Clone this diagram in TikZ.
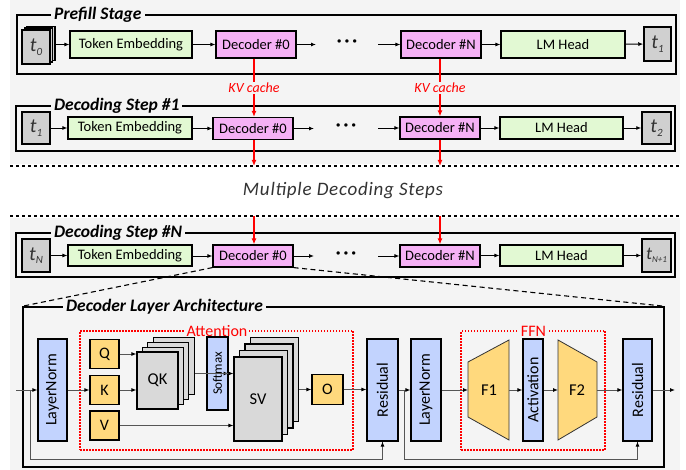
\documentclass[tikz,border=0pt]{standalone}
\usepackage{fontspec}
\setmainfont{Carlito}
\newfontfamily\spacedfont[LetterSpace=4]{Carlito}
\usetikzlibrary{arrows.meta,calc}
\definecolor{bg}{HTML}{F4F4F4}
\definecolor{tgreen}{HTML}{E2F9D3}
\definecolor{tpink}{HTML}{F5B1F5}
\definecolor{tgray}{HTML}{D0D0D0}
\definecolor{sgray}{HTML}{D9D9D9}
\definecolor{tblue}{HTML}{C2D3FE}
\definecolor{torange}{HTML}{FFD97D}
\definecolor{lgray}{HTML}{555555}
\definecolor{tdark}{HTML}{333333}
\newcommand\tlab[2][]{{\color{tdark}{\fontsize{20}{20}\selectfont\itshape t}\raisebox{-3.5pt}{\fontsize{11}{11}\selectfont\itshape #2}}}
\tikzset{
  box/.style={draw=black, line width=1.2pt, inner sep=0pt, font=\fontsize{14.5}{14.5}\selectfont},
  gbox/.style={box, fill=tgreen},
  dbox/.style={box, fill=tpink},
  tbox/.style={box, fill=tgray, line width=1.5pt},
  bbox/.style={box, fill=tblue, rotate=90, font=\fontsize{16}{16}\selectfont},
  obox/.style={box, fill=torange, font=\fontsize{16}{16}\selectfont},
  sbox/.style={box, fill=sgray, font=\fontsize{16.5}{16.5}\selectfont},
  frame/.style={draw=black, line width=2pt, inner sep=0pt},
  ttl/.style={fill=bg, inner xsep=3pt, inner ysep=0pt, font=\fontsize{17.5}{17.5}\selectfont\bfseries\itshape, anchor=west},
  arr/.style={-{Latex[length=5pt,width=4pt]}, line width=0.9pt, black},
  garr/.style={-{Latex[length=5pt,width=4pt,color=black]}, line width=0.9pt, draw=lgray},
  gline/.style={line width=0.9pt, draw=lgray},
  rarr/.style={-{Latex[length=6pt,width=5pt]}, line width=1.2pt, red},
  kvl/.style={fill=bg, inner sep=1pt, text=red, font=\fontsize{14}{14}\selectfont\itshape},
  sepline/.style={line width=1.5pt, dash pattern=on 3pt off 3pt},
  redbox/.style={draw=red, line width=1.3pt, dash pattern=on 1.5pt off 1.5pt},
  redlbl/.style={fill=bg, inner xsep=2pt, inner ysep=0pt, text=red, font=\fontsize{16}{16}\selectfont},
  dotsnode/.style={font=\fontsize{18}{18}\selectfont\bfseries},
  trap/.style={fill=torange, draw=black!80, line width=0.8pt},
}
\begin{document}
\begin{tikzpicture}[x=1pt,y=-1pt]
\useasboundingbox (0,0) rectangle (686,470);
\fill[white] (0,0) rectangle (686,470);
\fill[bg] (10,0) rectangle (680,164);
\fill[bg] (10,218) rectangle (680,470);

% ---------- Prefill stage ----------
\node[frame, minimum width=659pt, minimum height=59pt] (fpre) at (346.5,44.5) {};
\node[ttl] (tpre) at (51,15) {Prefill Stage};
\node[tbox, minimum width=28pt, minimum height=34pt] (t0b2) at (41,43.4) {};
\node[tbox, minimum width=28pt, minimum height=34pt] (t0b1) at (38.5,45.2) {};
\node[tbox, minimum width=28pt, minimum height=34pt] (t0) at (36,47) {\tlab{0}};
\node[gbox, minimum width=122pt, minimum height=27pt] (te0) at (131,44.5) {Token Embedding};
\node[dbox, minimum width=80pt, minimum height=27pt] (d0p) at (256,44.5) {Decoder \#0};
\node[dotsnode] (dotp) at (347,43) {·\,·\,·};
\node[dbox, minimum width=80pt, minimum height=27pt] (dNp) at (441,44.5) {Decoder \#N};
\node[gbox, minimum width=124pt, minimum height=27pt] (lmp) at (563,44.5) {LM Head};
\node[tbox, minimum width=27pt, minimum height=34pt] (t1p) at (657.5,44) {\tlab{1}};
\coordinate (dlp) at (316,44.5);
\coordinate (drp) at (378,44.5);
\draw[arr] (t0b2.east |- te0.west) -- (te0.west);
\draw[arr] (te0) -- (d0p);
\draw[arr] (d0p) -- (dlp);
\draw[arr] (drp) -- (dNp);
\draw[arr] (dNp) -- (lmp);
\draw[arr] (lmp) -- (t1p);

% ---------- Decoding step 1 ----------
\node[frame, minimum width=659pt, minimum height=45pt] (fs1) at (345.5,128.5) {};
\node[ttl] (ts1) at (51,106) {Decoding Step \#1};
\node[tbox, minimum width=28pt, minimum height=32pt] (t1s) at (36,128) {\tlab{1}};
\node[gbox, minimum width=124pt, minimum height=22pt] (te1) at (130,128) {Token Embedding};
\node[dbox, minimum width=80pt, minimum height=22pt] (d01) at (253,128.5) {Decoder \#0};
\node[dotsnode] (dot1) at (346,127) {·\,·\,·};
\node[dbox, minimum width=80pt, minimum height=22pt] (dN1) at (440,128) {Decoder \#N};
\node[gbox, minimum width=123pt, minimum height=22pt] (lm1) at (561.5,128) {LM Head};
\node[tbox, minimum width=29pt, minimum height=32pt] (t2s) at (656.5,128) {\tlab{2}};
\coordinate (dl1) at (314,128.5);
\coordinate (dr1) at (378,128);
\draw[arr] (t1s) -- (te1);
\draw[arr] (te1.east |- d01.west) -- (d01.west);
\draw[arr] (d01) -- (dl1);
\draw[arr] (dr1) -- (dN1);
\draw[arr] (dN1) -- (lm1);
\draw[arr] (lm1) -- (t2s);

% ---------- KV cache ----------
\coordinate (kva) at (254,0);
\coordinate (kvb) at (440,0);
\draw[rarr] (kva |- d0p.south) -- (kva |- d01.north);
\draw[rarr] (kvb |- dNp.south) -- (kvb |- dN1.north);
\node[kvl] (kvla) at (254,88) {KV cache};
\node[kvl] (kvlb) at (440,88) {KV cache};

% ---------- separators ----------
\coordinate (sepa) at (10,166);
\coordinate (sepb) at (680,166);
\coordinate (sepc) at (10,216);
\coordinate (sepd) at (680,216);
\draw[sepline] (sepa) -- (sepb);
\draw[sepline] (sepc) -- (sepd);
\node[font=\fontsize{19}{19}\spacedfont\itshape, text=tdark] (mds) at (343,191) {Multiple Decoding Steps};
\draw[rarr] (kva |- d01.south) -- (kva |- sepa);
\draw[rarr] (kvb |- dN1.south) -- (kvb |- sepa);

% ---------- Decoding step N ----------
\node[frame, minimum width=659pt, minimum height=44pt] (fsN) at (345.5,255) {};
\node[ttl] (tsN) at (51,233) {Decoding Step \#N};
\node[tbox, minimum width=28pt, minimum height=33pt] (tNs) at (36,255.5) {\tlab{N}};
\node[gbox, minimum width=124pt, minimum height=21pt] (teN) at (130,255.5) {Token Embedding};
\node[dbox, minimum width=80pt, minimum height=22pt] (d0N) at (253,256) {Decoder \#0};
\node[dotsnode] (dotN) at (346,255) {·\,·\,·};
\node[dbox, minimum width=80pt, minimum height=22pt] (dNN) at (440,256) {Decoder \#N};
\node[gbox, minimum width=123pt, minimum height=21pt] (lmN) at (561.5,255.5) {LM Head};
\node[tbox, minimum width=29pt, minimum height=33pt] (tN1s) at (656.5,255.5) {{\color{tdark}{\fontsize{18}{18}\selectfont\itshape t}\raisebox{-3.5pt}{\fontsize{9}{9}\selectfont\itshape N+1}}};
\coordinate (dlN) at (314,256);
\coordinate (drN) at (378,256);
\draw[arr] (tNs) -- (teN);
\draw[arr] (teN.east |- d0N.west) -- (d0N.west);
\draw[arr] (d0N) -- (dlN);
\draw[arr] (drN) -- (dNN);
\draw[arr] (dNN.east |- lmN.west) -- (lmN.west);
\draw[arr] (lmN) -- (tN1s);
\draw[rarr] (kva |- sepc) -- (kva |- d0N.north);
\draw[rarr] (kvb |- sepc) -- (kvb |- dNN.north);

% ---------- Decoder layer architecture ----------
\node[draw=black, line width=1.5pt, minimum width=641pt, minimum height=160pt, inner sep=0pt] (arch) at (343.5,387) {};
\draw[line width=1.1pt, dash pattern=on 5pt off 3.5pt] (d0N.south west) -- (arch.north west);
\draw[line width=1.1pt, dash pattern=on 5pt off 3.5pt] (d0N.south east) -- (arch.north east);
\node[ttl] (tarch) at (63,307) {Decoder Layer Architecture};

\node[redbox, minimum width=273pt, minimum height=119pt] (attn) at (216.5,390.5) {};
\node[redlbl] (attnl) at (217,331) {Attention};
\node[redbox, minimum width=144pt, minimum height=119pt] (ffn) at (533,390.5) {};
\node[redlbl] (ffnl) at (533.5,331) {FFN};

\node[bbox, minimum height=29pt, minimum width=102pt] (ln1) at (52.5,390) {LayerNorm};
\node[obox, minimum width=29pt, minimum height=29pt] (q) at (104.5,354) {Q};
\node[obox, minimum width=29pt, minimum height=29pt] (k) at (104.5,390) {K};
\node[obox, minimum width=29pt, minimum height=29pt] (v) at (104.5,425.5) {V};
\node[sbox, minimum width=41pt, minimum height=57pt] (qk3) at (173.7,366.4) {};
\node[sbox, minimum width=41pt, minimum height=57pt] (qk2) at (168.3,371.1) {};
\node[sbox, minimum width=41pt, minimum height=57pt] (qk1) at (162.9,375.8) {};
\node[sbox, minimum width=41pt, minimum height=57pt] (qk) at (157.5,380.5) {QK};
\node[bbox, minimum height=21pt, minimum width=73pt, font=\fontsize{13}{13}\selectfont] (sm) at (217.5,373.5) {Softmax};
\node[sbox, minimum width=48pt, minimum height=84pt] (sv3) at (274.5,379.5) {};
\node[sbox, minimum width=48pt, minimum height=84pt] (sv2) at (269,386) {};
\node[sbox, minimum width=48pt, minimum height=84pt] (sv1) at (263.5,392.5) {};
\node[sbox, minimum width=48pt, minimum height=84pt] (sv) at (258,399) {SV};
\node[obox, minimum width=31pt, minimum height=30pt] (o) at (327.5,389.5) {O};
\node[bbox, minimum height=31pt, minimum width=102pt] (r1) at (382.5,390) {Residual};
\node[bbox, minimum height=30pt, minimum width=102pt] (ln2) at (426,390) {LayerNorm};
\draw[trap] (468,362) -- (509,340) -- (509,440) -- (468,417) -- cycle;
\node[font=\fontsize{16.5}{16.5}\selectfont] (f1) at (489,390) {F1};
\coordinate (f1w) at (468,390);
\coordinate (f1e) at (509,390);
\node[bbox, minimum height=20pt, minimum width=102pt] (act) at (533,390) {Activation};
\draw[trap] (558,340) -- (597,362) -- (597,417) -- (558,440) -- cycle;
\node[font=\fontsize{16.5}{16.5}\selectfont] (f2) at (577,390) {F2};
\coordinate (f2w) at (558,390);
\coordinate (f2e) at (597,390);
\node[bbox, minimum height=29pt, minimum width=102pt] (r2) at (637.5,390) {Residual};

\coordinate (in) at (16,390);
\coordinate (j1) at (30,390);
\coordinate (j2) at (404,390);
\coordinate (out) at (675,390);
\coordinate (loopy) at (0,459);

\draw[garr] (in) -- (ln1.north);
\draw[gline] (j1) -- (j1 |- loopy) -| (r1.west);
\draw[garr] (r1.west |- 0,445) -- (r1.west);
\draw[garr] (ln1.south) -- (k.west);
\draw[garr] (q.east) -- (q.east -| qk.west);
\draw[garr] (k.east) -- (k.east -| qk.west);
\draw[garr] (qk3.east |- sm.south) -- (sm.south);
\draw[garr] (sm.north) -- (sm.north -| sv.west);
\draw[garr] (v.east) -- (v.east -| sv.west);
\draw[garr] (sv3.east |- o.west) -- (o.west);
\draw[garr] (o.east) -- (o.east -| r1.north);
\draw[garr] (r1.south) -- (ln2.north);
\draw[gline] (j2) -- (j2 |- loopy) -| (r2.west);
\draw[garr] (r2.west |- 0,445) -- (r2.west);
\draw[garr] (ln2.south) -- (f1w);
\draw[garr] (f1e) -- (act.north);
\draw[garr] (act.south) -- (f2w);
\draw[garr] (f2e) -- (r2.north);
\draw[garr] (r2.south) -- (out);
\end{tikzpicture}
\end{document}
